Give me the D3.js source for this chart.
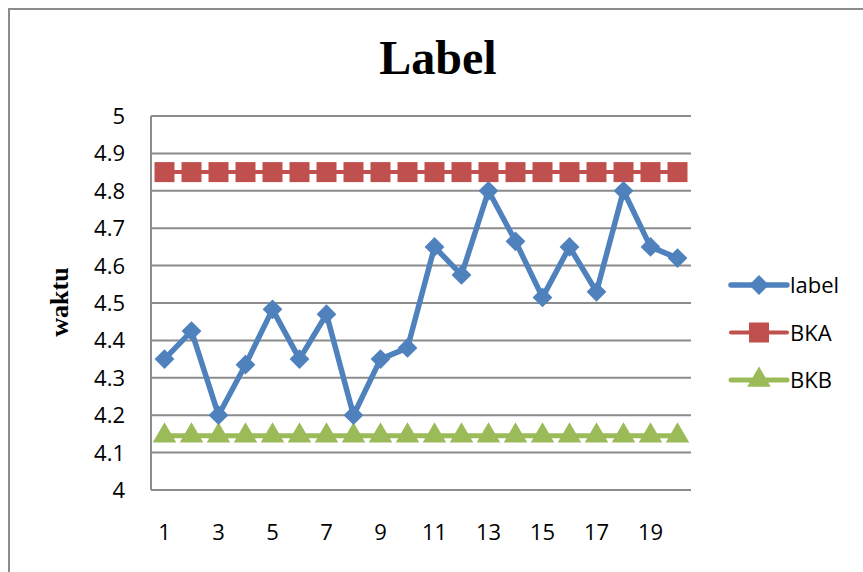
<!DOCTYPE html>
<html>
<head>
<meta charset="utf-8">
<script src="https://cdn.jsdelivr.net/npm/d3@7"></script>
<style>
  body { margin: 0; background: #fff; }
  text { fill: #000; }
</style>
</head>
<body>
<div id="chart"></div>
<script>
// chart data
var categories = d3.range(1, 21);
var labelValues = [4.35, 4.425, 4.2, 4.335, 4.483, 4.35, 4.47, 4.2, 4.35, 4.38,
                   4.65, 4.575, 4.8, 4.665, 4.515, 4.65, 4.53, 4.8, 4.65, 4.62];
var bkaValues = categories.map(function() { return 4.85; });
var bkbValues = categories.map(function() { return 4.145; });
var yTicks = [4, 4.1, 4.2, 4.3, 4.4, 4.5, 4.6, 4.7, 4.8, 4.9, 5];
var xTickLabels = [1, 3, 5, 7, 9, 11, 13, 15, 17, 19];
var seriesNames = ["label", "BKA", "BKB"];

var width = 863, height = 572;
var margin = {top: 116, left: 151, right: 172, bottom: 82};
var colors = {label: "#4f81bd", BKA: "#c0504d", BKB: "#9bbb59"};
var tickFont = "'Open Sans', 'Noto Sans', sans-serif";

var svg = d3.select("#chart").append("svg")
    .attr("width", width)
    .attr("height", height);

// outer chart border (right and bottom run off the picture)
svg.append("path")
    .attr("d", "M9,600 L9,9 L900,9")
    .attr("fill", "none")
    .attr("stroke", "#8c8c8c")
    .attr("stroke-width", 2);

var x = d3.scaleBand()
    .domain(categories)
    .range([margin.left, width - margin.right]);

var y = d3.scaleLinear()
    .domain([4, 5])
    .range([height - margin.bottom, margin.top]);

function cx(d, i) { return x(categories[i]) + x.bandwidth() / 2; }

// gridlines
svg.append("g").selectAll("line")
    .data(yTicks.slice(1))
    .enter().append("line")
    .attr("x1", margin.left)
    .attr("x2", width - margin.right)
    .attr("y1", function(d) { return y(d); })
    .attr("y2", function(d) { return y(d); })
    .attr("stroke", "#8c8c8c")
    .attr("stroke-width", 2);

// axis lines
svg.append("line")
    .attr("x1", margin.left).attr("x2", margin.left)
    .attr("y1", y(5)).attr("y2", y(4))
    .attr("stroke", "#8c8c8c").attr("stroke-width", 2);
svg.append("line")
    .attr("x1", margin.left).attr("x2", width - margin.right)
    .attr("y1", y(4)).attr("y2", y(4))
    .attr("stroke", "#8c8c8c").attr("stroke-width", 2);

// y tick labels
svg.append("g").selectAll("text")
    .data(yTicks)
    .enter().append("text")
    .attr("x", 125)
    .attr("y", function(d) { return y(d) + 8; })
    .attr("text-anchor", "end")
    .style("font-family", tickFont)
    .style("font-size", "22px")
    .text(function(d) { return d3.format("")(d); });

// x tick labels
svg.append("g").selectAll("text")
    .data(xTickLabels)
    .enter().append("text")
    .attr("x", function(d) { return x(d) + x.bandwidth() / 2; })
    .attr("y", 540)
    .attr("text-anchor", "middle")
    .style("font-family", tickFont)
    .style("font-size", "22px")
    .text(function(d) { return d; });

// title and axis title
svg.append("text")
    .attr("x", 438)
    .attr("y", 74)
    .attr("text-anchor", "middle")
    .style("font-family", "'Liberation Serif', 'DejaVu Serif', serif")
    .style("font-weight", "bold")
    .style("font-size", "48px")
    .text("Label");

svg.append("text")
    .attr("transform", "translate(68,302) rotate(-90)")
    .attr("text-anchor", "middle")
    .style("font-family", "'Liberation Serif', 'DejaVu Serif', serif")
    .style("font-weight", "bold")
    .style("font-size", "26px")
    .text("waktu");

var line = d3.line()
    .x(cx)
    .y(function(d) { return y(d); });

// marker drawing helpers
var diamond = d3.symbol().type(d3.symbolDiamond2).size(250);
var triangle = d3.symbol().type(d3.symbolTriangle).size(240);

function drawMarkers(name, pts, px, py) {
    var g = svg.append("g").attr("fill", colors[name]);
    if (name == "BKA") {
        g.selectAll("rect").data(pts).enter().append("rect")
            .attr("x", function(d, i) { return px(d, i) - 10; })
            .attr("y", function(d, i) { return py(d, i) - 10; })
            .attr("width", 20).attr("height", 20);
    }
    else {
        g.selectAll("path").data(pts).enter().append("path")
            .attr("transform", function(d, i) { return "translate(" + px(d, i) + "," + py(d, i) + ")"; })
            .attr("d", name == "label" ? diamond : triangle);
    }
}

// BKA series
svg.append("path")
    .datum(bkaValues)
    .attr("d", line)
    .attr("fill", "none")
    .attr("stroke", colors.BKA)
    .attr("stroke-width", 4);
drawMarkers("BKA", bkaValues, cx, function(d) { return y(d); });

// BKB series
svg.append("path")
    .datum(bkbValues)
    .attr("d", line)
    .attr("fill", "none")
    .attr("stroke", colors.BKB)
    .attr("stroke-width", 5);
drawMarkers("BKB", bkbValues, cx, function(d) { return y(d); });

// label series
svg.append("path")
    .datum(labelValues)
    .attr("d", line)
    .attr("fill", "none")
    .attr("stroke", colors.label)
    .attr("stroke-width", 5.5)
    .attr("stroke-linejoin", "round");
drawMarkers("label", labelValues, cx, function(d) { return y(d); });

// legend
var legendY = d3.scalePoint().domain(seriesNames).range([285, 380]);
var legend = svg.append("g");
seriesNames.forEach(function(name) {
    var ly = legendY(name);
    legend.append("line")
        .attr("x1", 731).attr("x2", 787)
        .attr("y1", ly).attr("y2", ly)
        .attr("stroke", colors[name])
        .attr("stroke-width", name == "label" ? 5.5 : (name == "BKA" ? 4 : 5))
        .attr("stroke-linecap", "round");
    drawMarkers(name, [0], function() { return 759; }, function() { return ly; });
    legend.append("text")
        .attr("x", 790)
        .attr("y", ly + 8)
        .style("font-family", tickFont)
        .style("font-size", "22px")
        .text(name);
});
</script>
</body>
</html>
